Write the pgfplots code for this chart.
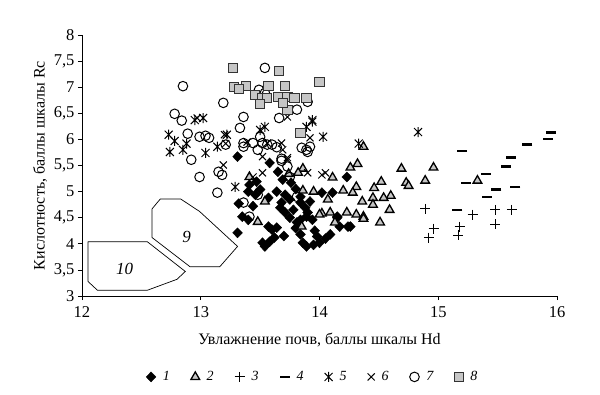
\documentclass[border=0pt]{standalone}
\usepackage{pgfplots}
\pgfplotsset{compat=1.18}
\usepackage{fontspec}
\setmainfont{Liberation Serif}
\pgfdeclareplotmark{xbar}{%
  \pgfpathmoveto{\pgfqpoint{-0.8\pgfplotmarksize}{-0.8\pgfplotmarksize}}%
  \pgfpathlineto{\pgfqpoint{0.8\pgfplotmarksize}{0.8\pgfplotmarksize}}%
  \pgfpathmoveto{\pgfqpoint{-0.8\pgfplotmarksize}{0.8\pgfplotmarksize}}%
  \pgfpathlineto{\pgfqpoint{0.8\pgfplotmarksize}{-0.8\pgfplotmarksize}}%
  \pgfpathmoveto{\pgfqpoint{0pt}{-\pgfplotmarksize}}%
  \pgfpathlineto{\pgfqpoint{0pt}{\pgfplotmarksize}}%
  \pgfusepathqstroke}
\begin{document}
\begin{tikzpicture}
\useasboundingbox (-82pt,-98pt) rectangle (518pt,296pt);
\begin{axis}[
  at={(0,0)}, anchor=south west,
  width=475pt, height=261pt, scale only axis,
  xmin=12, xmax=16, ymin=3, ymax=8,
  axis lines=left, axis line style={-, black, line width=0.8pt},
  xtick={12,13,14,15,16},
  ytick={3,3.5,4,4.5,5,5.5,6,6.5,7,7.5,8},
  tick align=outside, major tick length=4pt,
  tick style={black, line width=0.8pt},
  /pgf/number format/.cd, use comma, assume math mode=true, /pgfplots/.cd,
  tick label style={font=\fontsize{16.5}{18}\selectfont},
  xticklabel style={yshift=-3pt},
  label style={font=\fontsize{16}{18}\selectfont},
  xlabel style={yshift=-9pt},
  xlabel={Увлажнение почв, баллы шкалы Hd},
  ylabel={Кислотность, баллы шкалы Rc},
  legend style={draw=none, at={(0.486,-0.31)}, anchor=center, font=\fontsize{14}{16}\selectfont\itshape,
    /tikz/every even column/.append style={column sep=19pt},
    /tikz/every odd column/.append style={column sep=5pt}},
  legend columns=8,
  legend cell align=left,
]
% polygons 9 and 10
\addplot[black, line width=0.7pt, forget plot] coordinates {(12.59,4.67) (12.66,4.86) (12.83,4.86) (12.99,4.62) (13.31,3.95) (13.16,3.56) (12.91,3.56) (12.59,4.12) (12.59,4.67)};
\addplot[black, line width=0.7pt, forget plot] coordinates {(12.05,4.04) (12.55,4.04) (12.87,3.47) (12.80,3.32) (12.55,3.11) (12.13,3.11) (12.05,3.28) (12.05,4.04)};
\node[font=\fontsize{17}{19}\selectfont\itshape] at (axis cs:12.88,4.14) {9};
\node[font=\fontsize{17}{19}\selectfont\itshape] at (axis cs:12.36,3.51) {10};
% 1 diamonds
\addplot[only marks, mark=diamond*, mark size=5pt, mark options={fill=black, draw=black, xscale=1.3}] coordinates {
(13.31,5.67) (13.58,5.55) (13.65,5.38) (13.69,5.23) (13.76,5.17) (14.23,5.28) (13.41,5.13) (13.47,5.19)
(13.50,5.04) (13.40,5.00) (13.46,4.94) (13.64,5.00) (13.57,4.88) (13.68,4.79) (13.67,4.69) (13.71,4.60)
(13.75,4.50) (13.78,4.65) (13.84,4.79) (13.88,4.69) (13.89,4.52) (13.94,4.46) (13.84,4.46) (14.11,4.98)
(14.15,4.52) (14.17,4.33) (14.24,4.33) (14.09,4.18) (13.98,4.14) (13.95,3.98) (14.00,4.02) (13.84,4.18)
(13.86,4.02) (13.89,3.95) (13.64,4.31) (13.60,4.27) (13.57,4.33) (13.35,4.52) (13.40,4.46) (13.31,4.21)
(13.52,4.02) (13.58,4.04) (13.54,3.95) (13.81,4.41) (13.75,4.85) (13.92,4.81) (13.71,4.94) (13.84,4.90)
(13.32,4.77) (14.02,4.98) (14.26,4.33) (14.15,4.50) (13.90,4.60) (13.80,4.30) (13.70,4.15) (14.05,4.10)
(13.96,4.25) (13.62,4.12) (13.80,5.05) (13.44,4.72)};
\addlegendentry{1}
% 2 triangles
\addplot[only marks, mark=triangle*, mark size=5pt, mark options={fill=gray!45, draw=black, line width=1.3pt}] coordinates {
(14.37,5.86) (14.32,5.53) (14.26,5.46) (14.11,5.27) (14.69,5.44) (14.89,5.21) (14.52,5.19) (14.73,5.17)
(14.75,5.11) (14.31,5.09) (14.46,5.07) (14.20,5.02) (14.28,4.98) (14.60,4.92) (14.54,4.88) (14.45,4.88)
(14.07,4.85) (14.36,4.81) (14.45,4.75) (14.59,4.65) (14.23,4.60) (14.31,4.56) (14.37,4.52) (14.09,4.60)
(14.02,4.58) (14.51,4.41) (14.13,4.41) (14.96,5.46) (15.33,5.21) (13.86,5.44) (13.82,5.36) (13.74,5.34)
(13.41,5.28) (13.86,5.02) (13.95,5.00) (13.54,4.81) (14.00,4.56) (13.85,4.33) (13.48,4.42) (14.37,4.48)};
\addlegendentry{2}
% 3 plus
\addplot[only marks, mark=+, mark size=5pt, mark options={draw=black, line width=1pt}] coordinates {
(14.89,4.67) (14.96,4.29) (14.92,4.12) (15.18,4.33) (15.17,4.16) (15.29,4.56) (15.48,4.65) (15.48,4.37) (15.62,4.65)};
\addlegendentry{3}
% 4 dash
\addplot[only marks, mark=-, mark size=5pt, mark options={draw=black, line width=2.4pt}] coordinates {
(15.20,5.78) (15.95,6.13) (15.92,6.01) (15.75,5.90) (15.61,5.65) (15.57,5.48) (15.40,5.34) (15.23,5.17)
(15.49,5.04) (15.65,5.09) (15.41,4.90) (15.16,4.65)};
\addlegendentry{4}
% 5 asterisk
\addplot[only marks, mark=xbar, mark size=5pt, mark options={draw=black, line width=1pt}] coordinates {
(12.73,6.09) (12.78,5.97) (12.74,5.76) (12.85,5.80) (12.88,5.92) (13.04,5.74) (12.95,6.37) (13.02,6.41)
(13.22,6.09) (13.50,6.18) (13.54,6.24) (13.94,6.37) (13.89,6.24) (14.03,6.05) (13.14,5.86) (13.29,5.09)
(14.33,5.92) (14.83,6.14) (13.94,6.34)};
\addlegendentry{5}
% 6 x
\addplot[only marks, mark=x, mark size=5pt, mark options={draw=black, line width=1pt}] coordinates {
(12.97,6.41) (13.20,6.09) (13.21,5.92) (13.39,5.95) (13.56,5.93) (13.68,5.93) (13.73,6.43) (13.92,6.03)
(13.19,5.51) (13.52,5.67) (13.73,5.61) (13.69,5.80) (13.52,5.36) (13.73,5.65) (13.90,5.36) (14.05,5.36)
(13.44,5.28) (14.02,5.32)};
\addlegendentry{6}
% 7 circles
\addplot[only marks, mark=o, mark size=4.8pt, mark options={draw=black, line width=1pt}] coordinates {
(12.85,7.02) (13.54,7.37) (13.19,6.70) (13.49,6.95) (13.54,6.89) (13.90,6.72) (13.81,6.57) (13.66,6.41)
(12.78,6.49) (12.84,6.36) (13.36,6.43) (13.33,6.22) (12.89,6.11) (12.99,6.05) (13.04,6.07) (13.07,6.03)
(13.21,5.90) (13.36,5.93) (13.44,5.93) (13.50,6.05) (13.52,5.93) (13.56,5.90) (13.48,5.80) (13.36,5.86)
(13.85,5.84) (13.90,5.76) (12.92,5.61) (13.68,5.59) (13.73,5.48) (13.14,4.98) (13.68,5.63) (13.89,5.80)
(13.92,5.86) (13.18,5.32) (13.48,4.94) (13.81,4.90) (13.36,4.79) (13.41,4.52) (13.75,5.28) (12.99,5.28)
(13.15,5.38) (13.60,5.90) (13.64,5.85)};
\addlegendentry{7}
% 8 squares
\addplot[only marks, mark=square*, mark size=4.6pt, mark options={fill=gray!45, draw=black!80, line width=1pt}] coordinates {
(13.27,7.37) (13.66,7.31) (14.00,7.10) (13.38,7.02) (13.57,7.02) (13.71,7.02) (13.28,7.01) (13.32,6.97)
(13.46,6.85) (13.52,6.80) (13.56,6.80) (13.65,6.81) (13.73,6.81) (13.79,6.80) (13.89,6.80) (13.50,6.68)
(13.73,6.57) (13.84,6.13) (13.69,6.70)};
\addlegendentry{8}
\end{axis}
\end{tikzpicture}
\end{document}
